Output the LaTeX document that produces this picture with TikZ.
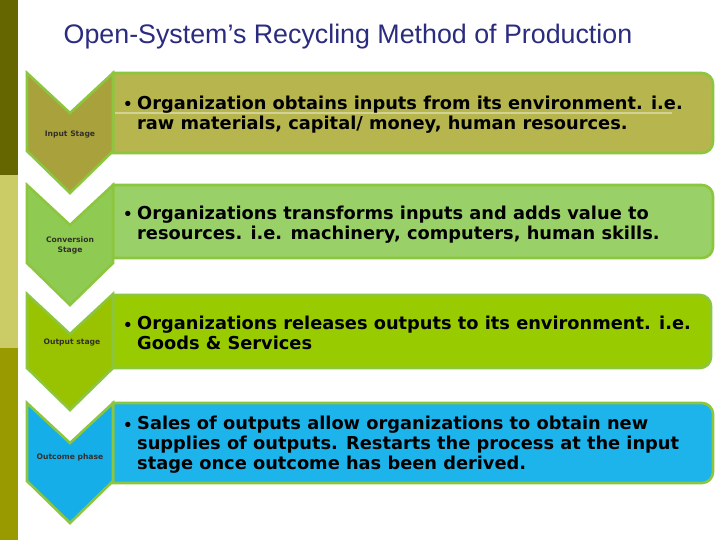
\documentclass[tikz,border=0pt]{standalone}
\usepackage{fontspec}
\setmainfont{DejaVu Sans}
\newfontfamily\titlefont{Liberation Sans}
\definecolor{stripA}{HTML}{666600}
\definecolor{stripB}{HTML}{CCCC66}
\definecolor{stripC}{HTML}{999900}
\definecolor{limeline}{HTML}{8CC63F}
\definecolor{chevA}{HTML}{A9A23C}
\definecolor{boxA}{HTML}{B6B54E}
\definecolor{chevB}{HTML}{8FCB52}
\definecolor{boxB}{HTML}{9AD068}
\definecolor{chevC}{HTML}{99C300}
\definecolor{boxC}{HTML}{99CC00}
\definecolor{chevD}{HTML}{16AEE8}
\definecolor{boxD}{HTML}{1DB4EC}
\definecolor{titleblue}{HTML}{2B2B80}
\tikzset{
  stageshape/.style={draw=limeline, line width=2.6pt, line join=miter},
  boxtext/.style={anchor=north west, inner sep=0pt, align=left, font=\bfseries\fontsize{17.8}{20}\selectfont, text=black},
  bulletmark/.style={anchor=base, inner sep=0pt, font=\bfseries\fontsize{15}{20}\selectfont, text=black},
  chevlabel/.style={inner sep=0pt, align=center, font=\bfseries\fontsize{7.6}{10}\selectfont, text=black!85!olive},
}
\begin{document}
\begin{tikzpicture}[x=1pt,y=-1pt]
\useasboundingbox (0,0) rectangle (720,540);
\fill[white] (0,0) rectangle (720,540);
% left strip
\fill[stripA] (0,0) rectangle (18,175);
\fill[stripB] (0,175) rectangle (18,348);
\fill[stripC] (0,348) rectangle (18,540);
% title
\node[font=\titlefont\fontsize{26.8}{30}\selectfont, text=titleblue, inner sep=0pt] (title) at (348,37) {Open-System’s Recycling Method of Production};
% boxes
\newcommand\stagebox[4]{% fill, top, bottom, right
  \draw[stageshape, fill=#1] (113,#2) -- ({#4-11},#2) .. controls ({#4-5},#2) and (#4,{#2+5}) .. (#4,{#2+11})
    -- (#4,{#3-11}) .. controls (#4,{#3-5}) and ({#4-5},#3) .. ({#4-11},#3) -- (113,#3) -- cycle;}
\stagebox{boxA}{73}{153}{713}
\draw[color=boxA!60!white, line width=1.5pt] (115,113) -- (672,113);
\stagebox{boxB}{185}{258}{713}
\stagebox{boxC}{295}{368}{711}
\stagebox{boxD}{403}{483}{713}
% chevrons
\newcommand\chevshape[3]{% fill, top, height
  \draw[stageshape, fill=#1] (27,#2) -- (70,{#2+40}) -- (113,#2) -- (113,{#2+#3-42}) -- (70,{#2+#3}) -- (27,{#2+#3-42}) -- cycle;}
\chevshape{chevA}{73}{120}
\chevshape{chevB}{185}{120}
\chevshape{chevC}{294}{116}
\chevshape{chevD}{403}{120}
\node[chevlabel] (lab1) at (70,135) {Input Stage};
\node[chevlabel] (lab2) at (70,245) {Conversion\\Stage};
\node[chevlabel] (lab3) at (72,342) {Output stage};
\node[chevlabel] (lab4) at (70,457) {Outcome phase};
% texts
\node[bulletmark] (b1) at (128,110) {•};
\node[boxtext] (t1) at (137,96) {Organization obtains inputs from its environment. i.e.\\raw materials, capital/ money, human resources.};
\node[bulletmark] (b2) at (128,220) {•};
\node[boxtext] (t2) at (137,206) {Organizations transforms inputs and adds value to\\resources. i.e. machinery, computers, human skills.};
\node[bulletmark] (b3) at (128,330) {•};
\node[boxtext] (t3) at (137,316) {Organizations releases outputs to its environment. i.e.\\Goods \& Services};
\node[bulletmark] (b4) at (128,430) {•};
\node[boxtext] (t4) at (137,416) {Sales of outputs allow organizations to obtain new\\supplies of outputs. Restarts the process at the input\\stage once outcome has been derived.};
\end{tikzpicture}
\end{document}
